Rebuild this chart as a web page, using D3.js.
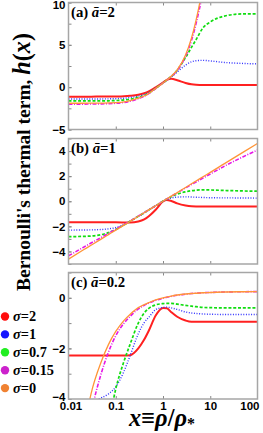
<!DOCTYPE html>
<html>
<head>
<meta charset="utf-8">
<script src="https://cdn.jsdelivr.net/npm/d3@7"></script>
<style>
  body { margin: 0; background: #fff; }
  svg { display: block; }
</style>
</head>
<body>
<svg id="chart" width="263" height="433"></svg>
<script>
// x grid (rho / rho*) shared by every curve
const xs = [0.01, 0.02, 0.03, 0.05, 0.07, 0.1, 0.15, 0.2, 0.3, 0.4, 0.5, 0.7, 1, 1.2, 1.5, 2, 3, 4, 5, 7, 10, 20, 50, 100];

const sigmaLabels = ['2', '1', '0.7', '0.15', '0'];

// panel (a) abar = 2
const hA_sigma2   = [-1.12, -1.12, -1.12, -1.11, -1.11, -1.1, -1.07, -1.02, -0.9, -0.72, -0.5, -0.02, 0.55, 0.85, 0.98, 0.82, 0.5, 0.34, 0.29, 0.27, 0.27, 0.27, 0.27, 0.27];
const hA_sigma1   = [-1.4, -1.4, -1.4, -1.39, -1.38, -1.36, -1.31, -1.23, -1.06, -0.88, -0.63, -0.1, 0.5, 0.82, 1.2, 1.8, 2.6, 3.0, 3.12, 3.17, 3.1, 2.92, 2.8, 2.75];
const hA_sigma07  = [-1.63, -1.63, -1.63, -1.62, -1.61, -1.58, -1.51, -1.42, -1.2, -0.98, -0.7, -0.14, 0.5, 0.84, 1.28, 2.0, 3.5, 4.7, 5.6, 7.0, 7.7, 8.4, 8.65, 8.65];
const hA_sigma015 = [-2.0, -2.0, -1.99, -1.97, -1.95, -1.9, -1.8, -1.66, -1.35, -1.07, -0.77, -0.16, 0.5, 0.83, 1.27, 1.98, 3.65, 5.5, 7.5, 11.3, 16.5, 33, 80, 150];
const hA_sigma0   = [-1.9, -1.9, -1.89, -1.88, -1.86, -1.83, -1.74, -1.6, -1.3, -1.04, -0.74, -0.14, 0.5, 0.84, 1.3, 2.05, 3.8, 5.8, 7.9, 12, 18, 38, 98, 198];

// panel (b) abar = 1
const hB_sigma2   = [-1.68, -1.68, -1.68, -1.68, -1.68, -1.68, -1.69, -1.7, -1.62, -1.45, -1.2, -0.68, -0.02, 0.1, 0.02, -0.17, -0.34, -0.4, -0.41, -0.41, -0.41, -0.41, -0.41, -0.41];
const hB_sigma1   = [-2.3, -2.29, -2.28, -2.25, -2.2, -2.1, -1.85, -1.6, -1.22, -0.94, -0.7, -0.36, 0, 0.14, 0.26, 0.33, 0.35, 0.34, 0.32, 0.3, 0.28, 0.27, 0.26, 0.25];
const hB_sigma07  = [-2.82, -2.8, -2.77, -2.66, -2.5, -2.25, -1.88, -1.6, -1.2, -0.92, -0.69, -0.36, 0, 0.17, 0.36, 0.57, 0.75, 0.84, 0.88, 0.91, 0.9, 0.86, 0.82, 0.8];
const hB_sigma015 = [-4.35, -3.7, -3.33, -2.87, -2.56, -2.23, -1.85, -1.58, -1.18, -0.91, -0.68, -0.36, 0, 0.18, 0.4, 0.67, 1.06, 1.33, 1.53, 1.85, 2.17, 2.8, 3.55, 4.08];
const hB_sigma0   = [-4.61, -3.91, -3.51, -3.0, -2.66, -2.3, -1.9, -1.61, -1.2, -0.92, -0.69, -0.36, 0, 0.18, 0.41, 0.69, 1.1, 1.39, 1.61, 1.95, 2.3, 3.0, 3.91, 4.61];

// panel (c) abar = 0.2
const hC_sigma2   = [-2.28, -2.28, -2.28, -2.28, -2.28, -2.28, -2.28, -2.27, -2.0, -1.65, -1.3, -0.7, -0.4, -0.41, -0.57, -0.75, -0.9, -0.95, -0.95, -0.95, -0.95, -0.95, -0.95, -0.95];
const hC_sigma1   = [-4.25, -4.2, -4.12, -3.95, -3.8, -3.52, -2.9, -2.3, -1.42, -0.98, -0.77, -0.47, -0.38, -0.37, -0.4, -0.46, -0.56, -0.6, -0.62, -0.64, -0.65, -0.66, -0.66, -0.66];
const hC_sigma07  = [-8, -7.5, -7, -6, -5.0, -3.6, -2.5, -1.85, -1.0, -0.6, -0.42, -0.28, -0.23, -0.22, -0.22, -0.25, -0.3, -0.33, -0.35, -0.38, -0.39, -0.4, -0.4, -0.4];
const hC_sigma015 = [-12, -6.6, -4.6, -2.95, -2.15, -1.5, -1.0, -0.74, -0.44, -0.3, -0.21, -0.1, -0.02, 0.02, 0.06, 0.1, 0.14, 0.17, 0.18, 0.2, 0.21, 0.23, 0.24, 0.245];
const hC_sigma0   = [-9.7, -5.5, -3.8, -2.5, -1.85, -1.33, -0.89, -0.66, -0.39, -0.27, -0.19, -0.08, 0, 0.03, 0.07, 0.11, 0.15, 0.17, 0.18, 0.2, 0.21, 0.23, 0.24, 0.245];

const xTicks = [0.01, 0.1, 1, 10, 100];
const xTickLabels = ['0.01', '0.1', '1', '10', '100'];

// curve styles, in sigma order 2, 1, 0.7, 0.15, 0
const lineColors = ['#ff2020', '#3333ff', '#11dd11', '#e616e6', '#ff9538'];
const dotColors = ['#ff0d0d', '#1515ff', '#22ee22', '#cc22cc', '#f08232'];
const dashes = [null, '1,1.6', '3,1.8', '4,1.5,1,1.5', null];
const widths = [2, 1.4, 1.7, 1.6, 1.3];

const serif = '"Liberation Serif", "Times New Roman", Times, serif';
const sans = '"Liberation Sans", Arial, Helvetica, sans-serif';

let svg = d3.select('#chart');
let left = 68.5, right = 257.5;

let x = d3.scaleLog().domain([0.01, 100]).range([left, right]);

let panels = [
  { id: 'a', tag: '(a) ', abar: '2', top: 2.5, bottom: 129.5, dom: [-5, 10], major: [-5, 0, 5, 10], minor: d3.range(-5, 10.1, 2.5),
    series: [hA_sigma2, hA_sigma1, hA_sigma07, hA_sigma015, hA_sigma0] },
  { id: 'b', tag: '(b) ', abar: '1', top: 138.5, bottom: 264, dom: [-5, 5], major: [-4, -2, 0, 2, 4], minor: d3.range(-5, 5.1, 1),
    series: [hB_sigma2, hB_sigma1, hB_sigma07, hB_sigma015, hB_sigma0] },
  { id: 'c', tag: '(c) ', abar: '0.2', top: 272.5, bottom: 399, dom: [-4, 1], major: [-4, -2, 0], minor: d3.range(-4, 1.1, 1),
    series: [hC_sigma2, hC_sigma1, hC_sigma07, hC_sigma015, hC_sigma0] }
];

// scale a text's font so that its length along the baseline is `target` px
function fitText(sel, target) {
  let w = sel.node().getComputedTextLength();
  let fs = parseFloat(sel.style('font-size'));
  if (w > 0) sel.style('font-size', (fs * target / w) + 'px');
}

panels.forEach((p, pi) => {
  let y = d3.scaleLinear().domain(p.dom).range([p.bottom, p.top]);

  svg.append('clipPath').attr('id', 'clip-' + p.id)
    .append('rect')
    .attr('x', left).attr('y', p.top)
    .attr('width', right - left).attr('height', p.bottom - p.top);

  let plot = svg.append('g').attr('clip-path', `url(#clip-${p.id})`);

  let line = d3.line()
    .x((d, i) => x(xs[i]))
    .y(d => y(d))
    .curve(d3.curveMonotoneX);

  p.series.forEach((vals, si) => {
    plot.append('path')
      .datum(vals)
      .attr('d', line)
      .attr('fill', 'none')
      .attr('stroke', lineColors[si])
      .attr('stroke-width', widths[si])
      .attr('stroke-dasharray', dashes[si]);
  });

  // y axis: minor ticks then labelled majors, all pointing inward
  svg.append('g')
    .attr('transform', `translate(${left},0)`)
    .call(d3.axisLeft(y).tickValues(p.minor).tickSize(-3).tickFormat(''))
    .call(g => g.select('.domain').remove());

  let yAxis = svg.append('g')
    .attr('transform', `translate(${left},0)`)
    .call(d3.axisLeft(y).tickValues(p.major).tickSize(-3).tickPadding(3).tickFormat(d3.format('d')));
  yAxis.select('.domain').remove();
  yAxis.selectAll('text')
    .style('font-family', sans)
    .style('font-weight', 'bold')
    .style('font-size', '11.5px')
    .attr('fill', '#000');
  // keep the top label inside the picture, and lift the bottom one off the x labels
  yAxis.selectAll('text').filter(d => d == 10).attr('y', 2.5);
  if (pi == 2) yAxis.selectAll('text').filter(d => d == -4).attr('y', -2.5);

  // x ticks top and bottom
  svg.append('g')
    .attr('transform', `translate(0,${p.top})`)
    .call(d3.axisTop(x).tickValues(xTicks.slice(1, 4)).tickSize(-3).tickFormat(''))
    .call(g => g.select('.domain').remove());

  let xAxis = svg.append('g')
    .attr('transform', `translate(0,${p.bottom})`)
    .call(d3.axisBottom(x).tickValues(pi == 2 ? xTicks : xTicks.slice(1, 4)).tickSize(-3).tickPadding(2.5)
      .tickFormat(pi == 2 ? ((d, i) => xTickLabels[i]) : ''));
  xAxis.select('.domain').remove();
  xAxis.selectAll('.tick line').filter(d => d == 0.01 || d == 100).remove();
  xAxis.selectAll('text')
    .style('font-family', sans)
    .style('font-weight', 'bold')
    .style('font-size', '11.5px')
    .attr('fill', '#000');
  xAxis.selectAll('text').filter(d => d == 100).attr('text-anchor', 'end').attr('x', 1.5);
  xAxis.selectAll('text').filter(d => d == 0.01).attr('x', 2);

  svg.selectAll('.tick line').attr('stroke', '#888');

  // frame
  svg.append('rect')
    .attr('x', left).attr('y', p.top)
    .attr('width', right - left).attr('height', p.bottom - p.top)
    .attr('fill', 'none')
    .attr('stroke', '#a6a6a6')
    .attr('stroke-width', 1.5);

  // panel tag
  let tag = svg.append('text')
    .attr('class', 'tag tag-' + p.id)
    .attr('x', 71).attr('y', p.top + 14.5)
    .style('font-family', serif)
    .style('font-weight', 'bold')
    .style('font-size', '15px');
  tag.append('tspan').text(p.tag);
  tag.append('tspan').style('font-style', 'italic').text('\u0101');
  tag.append('tspan').text('=' + p.abar);
});

// all three panel tags share the size fitted on (a)
let tagA = svg.select('.tag-a');
fitText(tagA, 44);
svg.selectAll('.tag').style('font-size', tagA.style('font-size'));

// legend
let legend = svg.append('g').attr('transform', 'translate(0,316.5)');
sigmaLabels.forEach((s, i) => {
  let row = legend.append('g').attr('transform', `translate(0,${i * 17.9})`);
  row.append('circle').attr('cx', 5).attr('cy', 0).attr('r', 4.2).attr('fill', dotColors[i]);
  let t = row.append('text')
    .attr('class', 'legend-text')
    .attr('x', 13).attr('y', 4.8)
    .style('font-family', serif)
    .style('font-weight', 'bold')
    .style('font-size', '14px');
  t.append('tspan').style('font-style', 'italic').text('\u03c3');
  t.append('tspan').text('=' + s);
});
// size the legend so that "sigma=0.15" is about 41px long
let probe = legend.selectAll('.legend-text').filter((d, i) => i == 3);
fitText(probe, 41);
legend.selectAll('.legend-text').style('font-size', probe.style('font-size'));

// y title
let yTitle = svg.append('text')
  .attr('transform', 'translate(30,162) rotate(-90)')
  .attr('text-anchor', 'middle')
  .style('font-family', serif)
  .style('font-weight', 'bold')
  .style('font-size', '18px');
yTitle.append('tspan').text("Bernoulli's thermal term, ");
yTitle.append('tspan').style('font-style', 'italic').style('font-size', '1.24em').text('h');
yTitle.append('tspan').style('font-size', '1.24em').text('(');
yTitle.append('tspan').style('font-style', 'italic').style('font-size', '1.24em').text('x');
yTitle.append('tspan').style('font-size', '1.24em').text(')');
fitText(yTitle, 258);

// x title
let xTitle = svg.append('text')
  .attr('x', 162).attr('y', 426)
  .attr('text-anchor', 'middle')
  .style('font-family', serif)
  .style('font-weight', 'bold')
  .style('font-size', '21px');
xTitle.append('tspan').style('font-style', 'italic').text('x');
xTitle.append('tspan').text('\u2261');
xTitle.append('tspan').style('font-style', 'italic').text('\u03c1');
xTitle.append('tspan').text('/');
xTitle.append('tspan').style('font-style', 'italic').text('\u03c1');
xTitle.append('tspan').attr('dy', 3).style('font-size', '0.65em').text('*');
fitText(xTitle, 66);
</script>
</body>
</html>
